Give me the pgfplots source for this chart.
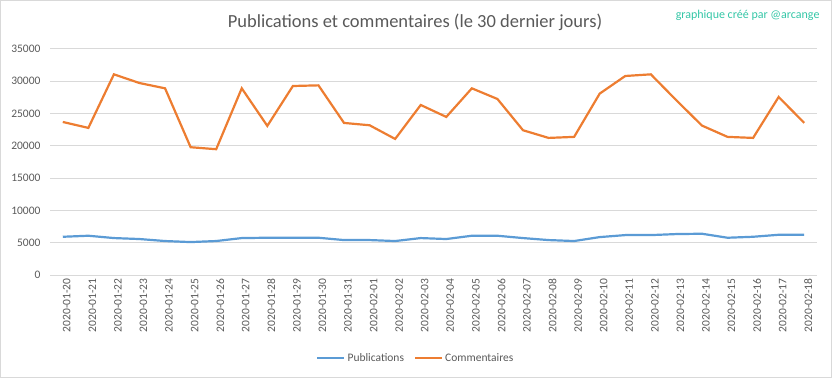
\documentclass[border=0pt]{standalone}
\usepackage{fontspec}
\setmainfont{Carlito}
\usepackage{pgfplots}
\pgfplotsset{compat=1.18}
\definecolor{excelblue}{HTML}{5B9BD5}
\definecolor{excelorange}{HTML}{ED7D31}
\definecolor{txt}{HTML}{595959}
\definecolor{gridc}{HTML}{D9D9D9}
\definecolor{wm}{HTML}{33C6A6}
\begin{document}
\begin{tikzpicture}[x=1bp,y=1bp]
\useasboundingbox (0,0) rectangle (832,378);
\draw[gridc, line width=1bp] (0.5,0.5) rectangle (831.5,377.5);
\begin{axis}[
  at={(50bp,103bp)}, anchor=south west,
  scale only axis, width=767bp, height=226bp,
  xmin=-0.5, xmax=29.5, ymin=0, ymax=35000,
  ytick={0,5000,...,35000},
  xtick={0,...,29},
  xticklabels={2020-01-20,2020-01-21,2020-01-22,2020-01-23,2020-01-24,2020-01-25,2020-01-26,2020-01-27,2020-01-28,2020-01-29,2020-01-30,2020-01-31,2020-02-01,2020-02-02,2020-02-03,2020-02-04,2020-02-05,2020-02-06,2020-02-07,2020-02-08,2020-02-09,2020-02-10,2020-02-11,2020-02-12,2020-02-13,2020-02-14,2020-02-15,2020-02-16,2020-02-17,2020-02-18},
  scaled y ticks=false,
  /pgf/number format/.cd, fixed, set thousands separator={}, assume math mode=true, /pgfplots/.cd,
  axis line style={draw=none},
  ymajorgrids, major grid style={gridc, line width=1bp},
  major tick style={draw=none},
  tick label style={font=\fontsize{11.5bp}{13bp}\selectfont, text=txt},
  yticklabel style={anchor=east, xshift=-6bp},
  xticklabel style={rotate=90, anchor=east, xshift=0bp, yshift=-4bp},
  legend style={at={(0.477,-0.367)}, anchor=center, legend columns=2, draw=none, fill=none,
    font=\fontsize{11.5bp}{13bp}\selectfont, text=txt,
    /tikz/every even column/.append style={column sep=8bp}},
  legend cell align=left,
  legend image code/.code={\draw[#1] (0bp,0bp) -- (27bp,0bp);},
]
\addplot[excelblue, line width=2.2bp, mark=none] coordinates {
(0,5920) (1,6080) (2,5720) (3,5570) (4,5260) (5,5100) (6,5260) (7,5720) (8,5770) (9,5770)
(10,5770) (11,5410) (12,5410) (13,5260) (14,5720) (15,5570) (16,6080) (17,6080) (18,5720) (19,5410)
(20,5260) (21,5870) (22,6180) (23,6180) (24,6340) (25,6390) (26,5770) (27,5920) (28,6230) (29,6230)};
\addlegendentry{Publications}
\addplot[excelorange, line width=2.2bp, mark=none] coordinates {
(0,23700) (1,22780) (2,31075) (3,29730) (4,28910) (5,19790) (6,19480) (7,28910) (8,23090) (9,29270)
(10,29370) (11,23550) (12,23190) (13,21070) (14,26330) (15,24480) (16,28910) (17,27260) (18,22420) (19,21230)
(20,21390) (21,28090) (22,30820) (23,31075) (24,27050) (25,23140) (26,21390) (27,21230) (28,27570) (29,23550)};
\addlegendentry{Commentaires}
\end{axis}
\node[text=txt, font=\fontsize{18.5bp}{22bp}\selectfont] at (415,356) {Publications et commentaires (le 30 dernier jours)};
\node[text=wm, font=\fontsize{12bp}{14bp}\selectfont, anchor=east] at (823,363) {graphique créé par @arcange};
\end{tikzpicture}
\end{document}
